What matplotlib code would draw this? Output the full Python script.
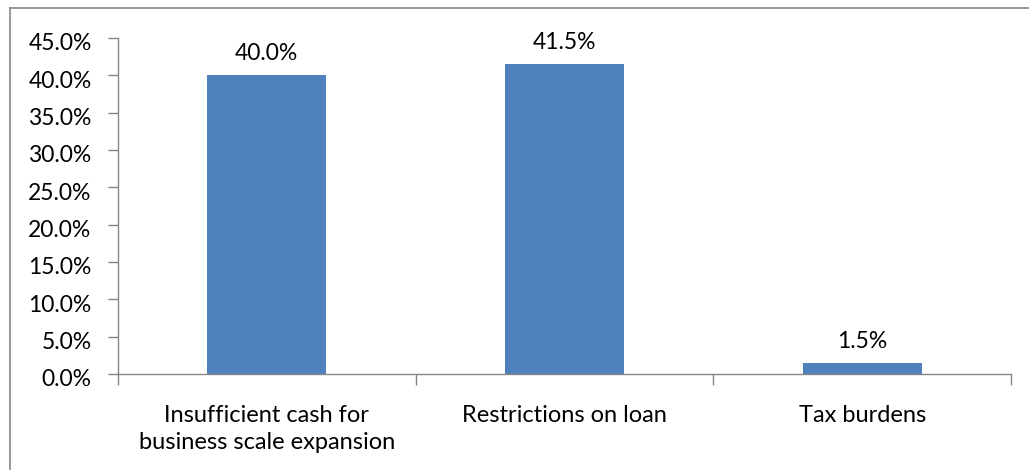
import matplotlib.pyplot as plt
from matplotlib.lines import Line2D
from matplotlib.ticker import FuncFormatter
from matplotlib.transforms import ScaledTranslation

# survey results: share of respondents by difficulty
categories = ['Insufficient cash for\nbusiness scale expansion', 'Restrictions on loan', 'Tax burdens']
shares = [40.0, 41.5, 1.5]

bar_color = '#4F81BD'
axis_color = '#868686'

plt.rcParams['font.family'] = ['Lato', 'DejaVu Sans']
plt.rcParams['font.size'] = 16.5

fig = plt.figure(figsize=(10.29, 4.70), dpi=100)
ax = fig.add_axes([118 / 1029, 1 - 374 / 470, (1011 - 118) / 1029, (374 - 38) / 470])

x = list(range(len(categories)))
ax.bar(x, shares, width=0.4, color=bar_color, zorder=2)

for xi, v in zip(x, shares):
    ax.annotate(f'{v:.1f}%', (xi, v), xytext=(0, 8), textcoords='offset points',
                ha='center', va='bottom', fontsize=16.5, color='black')

ax.set_xlim(-0.5, len(categories) - 0.5)
ax.set_ylim(0, 45)
ax.set_yticks([i * 5 for i in range(10)])
ax.yaxis.set_major_formatter(FuncFormatter(lambda v, _: f'{v:.1f}%'))

# boundary ticks between categories, labels sit at the centres
ax.set_xticks([i - 0.5 for i in range(len(categories) + 1)])
ax.set_xticklabels([])
ax.set_xticks(x, minor=True)
ax.set_xticklabels(categories, minor=True, linespacing=1.38)
ax.tick_params(axis='x', which='major', direction='out', length=8, width=1, color=axis_color)
ax.tick_params(axis='x', which='minor', length=0, pad=22, labelsize=17)
ax.tick_params(axis='y', direction='out', length=7, width=1, color=axis_color, pad=12, labelsize=16.5)

# value labels sit a little below their ticks
shift = ScaledTranslation(0, -0.04, fig.dpi_scale_trans)
for lab in ax.get_yticklabels():
    lab.set_transform(lab.get_transform() + shift)

for side in ['top', 'right']:
    ax.spines[side].set_visible(False)
for side in ['left', 'bottom']:
    ax.spines[side].set_color(axis_color)
    ax.spines[side].set_linewidth(1)

# chart area outline
fig.add_artist(Line2D([10 / 1029, 10 / 1029], [1 - 8 / 470, 0], color=axis_color, lw=1.2))
fig.add_artist(Line2D([10 / 1029, 1], [1 - 8 / 470, 1 - 8 / 470], color=axis_color, lw=1.2))

fig.savefig('out.png', dpi=100)
